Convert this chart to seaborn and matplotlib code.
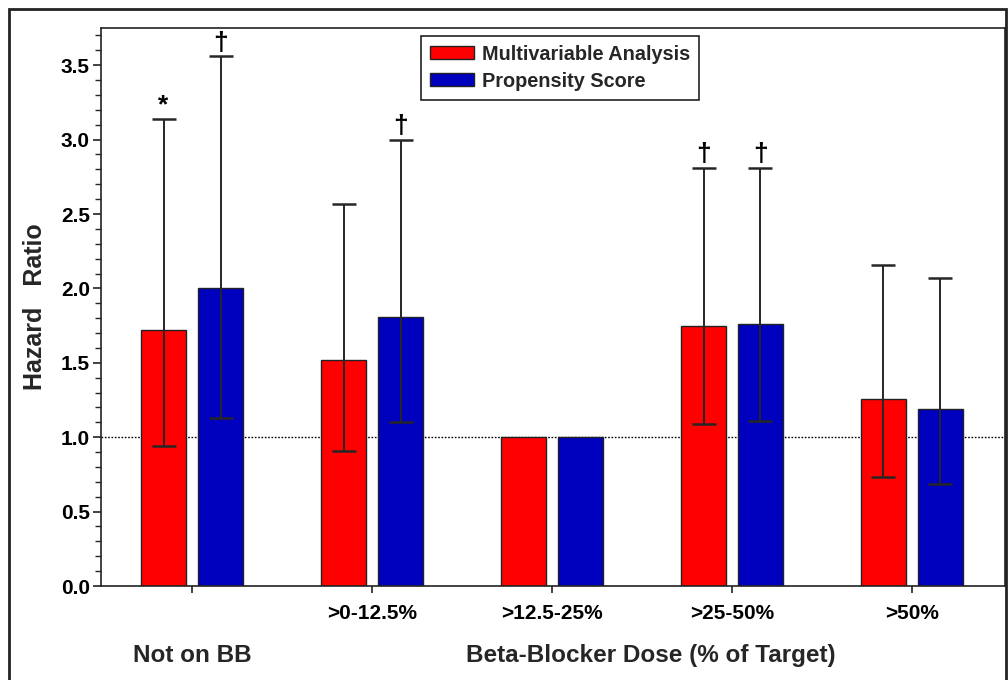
import numpy as np
import pandas as pd
import seaborn as sns
import matplotlib.pyplot as plt
from matplotlib.patches import Rectangle
from matplotlib.ticker import MultipleLocator

# data
doses = ["Not on BB", ">0-12.5%", ">12.5-25%", ">25-50%", ">50%"]
tick_labels = ["", ">0-12.5%", ">12.5-25%", ">25-50%", ">50%"]
methods = ["Multivariable Analysis", "Propensity Score"]
hr_multi = [1.72, 1.52, 1.00, 1.75, 1.26]
hr_prop = [2.00, 1.81, 1.00, 1.76, 1.19]
lo_multi = [0.94, 0.91, np.nan, 1.09, 0.73]
hi_multi = [3.14, 2.57, np.nan, 2.81, 2.16]
lo_prop = [1.13, 1.10, np.nan, 1.11, 0.685]
hi_prop = [3.56, 3.00, np.nan, 2.81, 2.07]
marks_multi = ["*", "", "", "\u2020", ""]
marks_prop = ["\u2020", "\u2020", "", "\u2020", ""]
colors = ["#FF0000", "#0000BF"]

df = pd.DataFrame({
    "dose": doses * 2,
    "method": [methods[0]] * len(doses) + [methods[1]] * len(doses),
    "hr": hr_multi + hr_prop,
    "lo": lo_multi + lo_prop,
    "hi": hi_multi + hi_prop,
    "mark": marks_multi + marks_prop,
})

sns.set_theme(style="ticks")
plt.rcParams["font.family"] = ["Liberation Sans", "DejaVu Sans"]
plt.rcParams["font.weight"] = "bold"
plt.rcParams["axes.linewidth"] = 1.2
plt.rcParams["axes.edgecolor"] = "#222222"

fig = plt.figure(figsize=(10.08, 6.8), dpi=100)
ax = fig.add_axes([101 / 1008, 1 - 586 / 680, 904 / 1008, 558 / 680])

ax.axhline(1.0, color="black", ls=(0, (1.2, 1.2)), lw=1.0, zorder=1)

sns.barplot(data=df, x="dose", y="hr", hue="method", order=doses, hue_order=methods,
            palette=colors, width=0.633, gap=0.21, saturation=1, errorbar=None,
            edgecolor="#222222", linewidth=1.0, legend=False, ax=ax, zorder=2)

for ci, m in enumerate(methods):
    sub = df[df["method"] == m].set_index("dose")
    for bar in ax.containers[ci]:
        xc = bar.get_x() + bar.get_width() / 2
        row = sub.loc[doses[int(round(xc))]]
        if np.isnan(row["lo"]):
            continue
        ax.errorbar(xc, row["hr"], yerr=[[row["hr"] - row["lo"]], [row["hi"] - row["hr"]]],
                    fmt="none", ecolor="#262626", elinewidth=1.4, capsize=8.5, capthick=1.8,
                    zorder=3)
        if row["mark"]:
            ax.annotate(row["mark"], (xc, row["hi"]), xytext=(0, 1), textcoords="offset points",
                        ha="center", va="bottom", fontsize=19, fontweight="bold", color="black")

ax.set_xlim(-0.506, 4.517)
ax.set_ylim(0, 3.75)
ax.set_yticks(np.arange(0, 3.51, 0.5))
ax.set_yticklabels([f"{v:.1f}" for v in np.arange(0, 3.51, 0.5)])
ax.yaxis.set_minor_locator(MultipleLocator(0.1))
ax.set_xticks(range(len(doses)))
ax.set_xticklabels(tick_labels)
ax.tick_params(axis="both", labelsize=15, colors="#222222", labelcolor="black")
ax.tick_params(axis="y", which="major", length=6, width=1.2, pad=2)
ax.tick_params(axis="y", which="minor", length=4, width=1.0)
ax.tick_params(axis="x", length=5, width=1.2, pad=8)
ax.set_xlabel("")
ax.set_ylabel("")

ax.text(-0.073, 0.5, "Hazard   Ratio", transform=ax.transAxes, rotation=90,
        ha="center", va="center", fontsize=18, fontweight="bold")
ax.text(0, -0.124, "Not on BB", transform=ax.get_xaxis_transform(),
        ha="center", va="center", fontsize=17.5, fontweight="bold")
ax.text(2.55, -0.124, "Beta-Blocker Dose (% of Target)", transform=ax.get_xaxis_transform(),
        ha="center", va="center", fontsize=17.5, fontweight="bold")

handles = [Rectangle((0, 0), 1, 1, facecolor=c, edgecolor="#222222", lw=1.0) for c in colors]
leg = ax.legend(handles, methods, loc="upper left", bbox_to_anchor=(0.354, 0.986),
                frameon=True, fancybox=False, edgecolor="#222222", framealpha=1,
                prop={"weight": "bold", "size": 14.3}, handlelength=2.2, handleheight=0.65,
                handletextpad=0.4, labelspacing=0.4, borderpad=0.45, borderaxespad=0)
leg.get_frame().set_linewidth(1.2)

# outer frame around the whole picture
fig.add_artist(Rectangle((9 / 1008, -0.02), 997 / 1008, 1.02 - 9 / 680,
                         transform=fig.transFigure, fill=False, edgecolor="#222222", lw=2.0))

fig.savefig("out.png", dpi=100)
